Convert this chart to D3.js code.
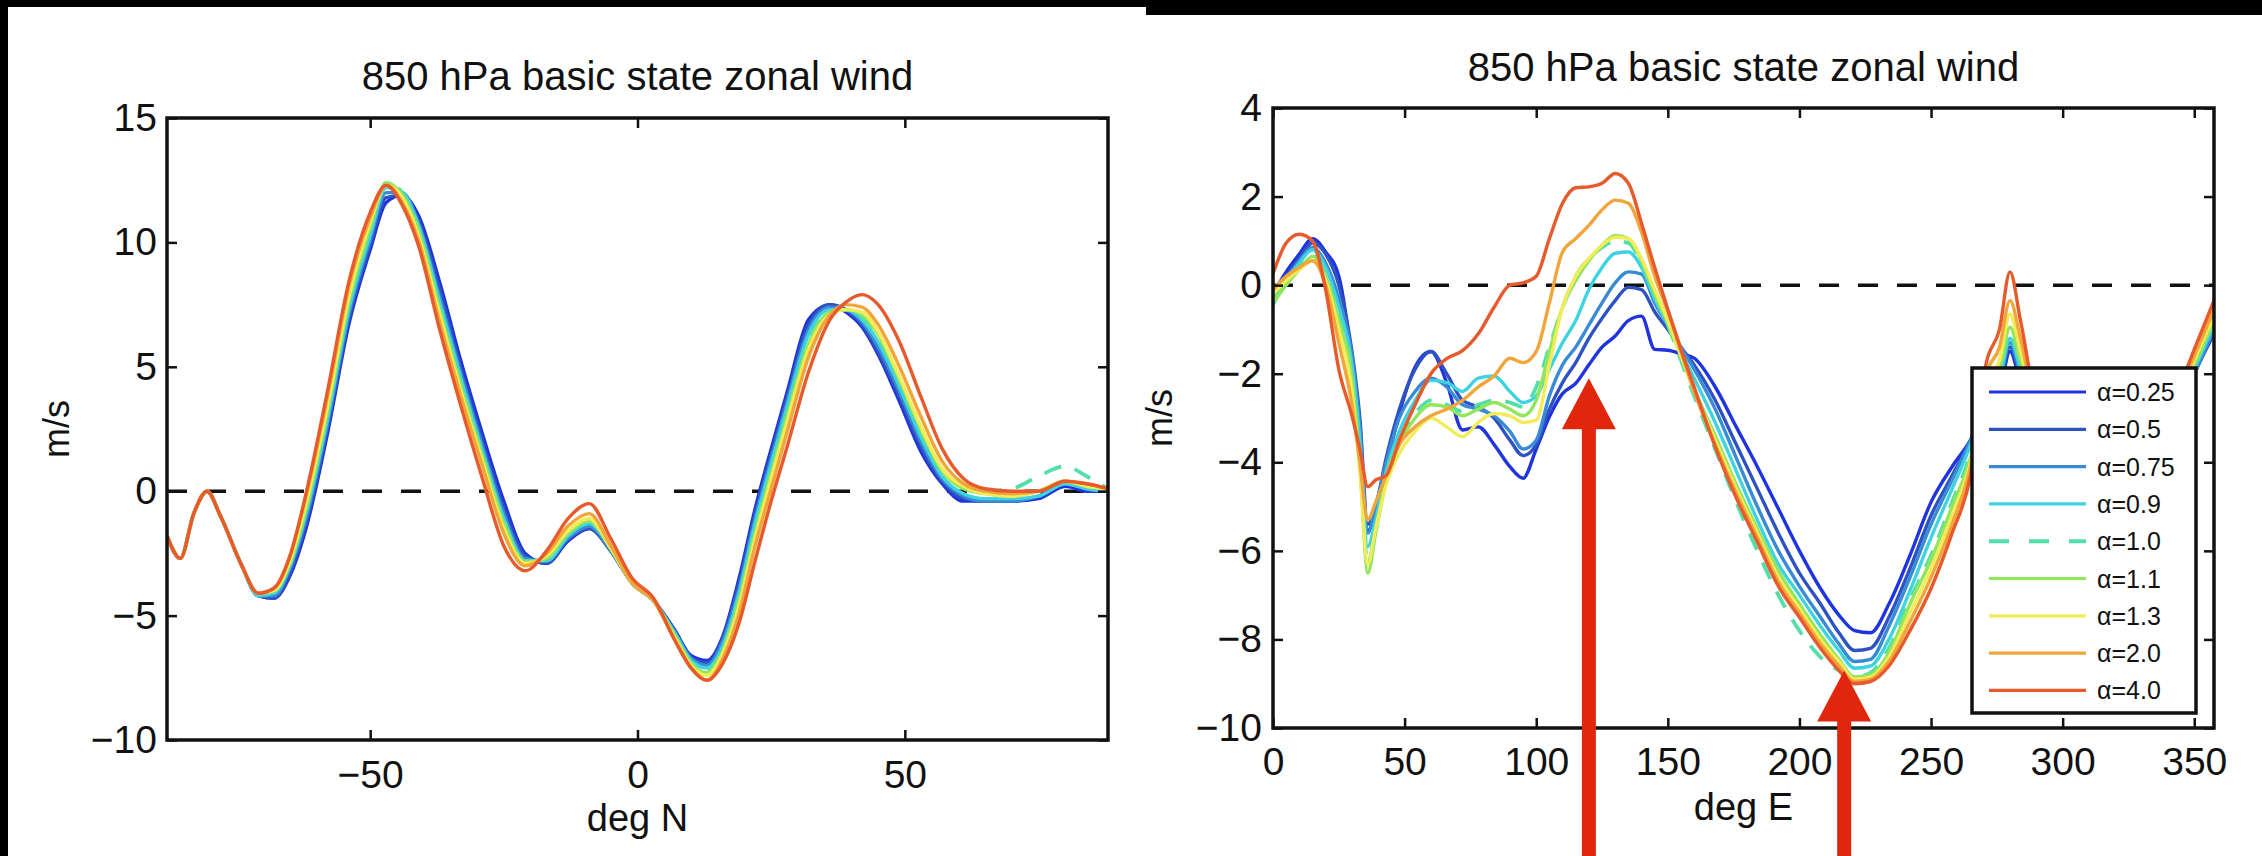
<!DOCTYPE html>
<html>
<head>
<meta charset="utf-8">
<script src="https://cdn.jsdelivr.net/npm/d3@7"></script>
<style>
  html, body { margin: 0; padding: 0; background: #000; }
  svg { display: block; }
  text { font-family: 'Liberation Sans', Arial, Helvetica, sans-serif; }
</style>
</head>
<body>
<svg id="fig" width="2262" height="856"></svg>
<script>
const W = 2262, H = 856;

const ALPHAS = ['α=0.25', 'α=0.5', 'α=0.75', 'α=0.9', 'α=1.0', 'α=1.1', 'α=1.3', 'α=2.0', 'α=4.0'];
const ALPHA_COLORS = ['#1f33de', '#2f52c2', '#3a8bd6', '#3fd3e2', '#52e0a8', '#92e65e', '#f2ec58', '#f2a53a', '#e65a2c'];
const DASHED = 'α=1.0';

// zonal mean, by latitude
const LAT = [-88, -85.5, -83, -80.5, -78, -74, -71, -68, -65, -62, -58, -54, -50, -47, -44, -41, -37, -33, -29, -25,
  -21, -17, -13, -9, -5, -1, 3, 7, 10, 13, 16, 19, 22, 25, 28, 32, 36, 39, 42, 45, 49, 53, 57, 61, 65, 70, 75, 80, 84, 88];
const LAT_TICKS = [-50, 0, 50];
const LAT_U_TICKS = [-10, -5, 0, 5, 10, 15];

const latU025 = [-1.8, -2.7, -0.9, 0.0, -1.0, -3.0, -4.2, -4.3, -3.4, -1.5, 2.3, 6.7, 9.7, 11.6, 11.9, 11.1, 8.4, 5.2, 2.3, -0.4, -2.5, -2.9, -2.0, -1.5, -2.4, -3.7, -4.4, -5.6, -6.6, -6.8, -5.8, -3.5, -0.7, 1.7, 4.0, 6.9, 7.5, 7.2, 6.6, 5.5, 3.6, 1.6, 0.3, -0.4, -0.4, -0.4, -0.3, 0.2, 0.0, 0.0];
const latU05 = [-1.8, -2.7, -0.9, 0.0, -1.0, -3.0, -4.2, -4.3, -3.3, -1.3, 2.5, 6.9, 9.9, 11.8, 11.9, 10.9, 8.1, 4.9, 2.0, -0.7, -2.6, -2.9, -1.9, -1.5, -2.4, -3.7, -4.4, -5.6, -6.7, -6.9, -5.9, -3.7, -0.9, 1.5, 3.8, 6.7, 7.5, 7.3, 6.7, 5.6, 3.8, 1.8, 0.4, -0.3, -0.4, -0.4, -0.2, 0.3, 0.1, 0.0];
const latU075 = [-1.8, -2.7, -0.9, 0.0, -1.0, -3.0, -4.2, -4.2, -3.1, -1.1, 2.7, 7.1, 10.1, 12.0, 12.0, 10.8, 7.8, 4.7, 1.8, -0.9, -2.7, -2.8, -1.9, -1.4, -2.4, -3.7, -4.4, -5.7, -6.7, -7.0, -6.0, -3.9, -1.1, 1.3, 3.6, 6.5, 7.4, 7.3, 6.8, 5.8, 4.0, 2.0, 0.5, -0.2, -0.4, -0.4, -0.2, 0.3, 0.1, 0.0];
const latU09 = [-1.8, -2.7, -0.9, 0.0, -1.0, -3.0, -4.2, -4.1, -3.0, -0.9, 2.9, 7.3, 10.3, 12.2, 12.0, 10.7, 7.6, 4.5, 1.6, -1.1, -2.8, -2.8, -1.8, -1.3, -2.3, -3.7, -4.4, -5.7, -6.8, -7.1, -6.2, -4.1, -1.3, 1.1, 3.4, 6.3, 7.3, 7.3, 6.9, 6.0, 4.2, 2.2, 0.6, -0.1, -0.3, -0.3, -0.2, 0.3, 0.1, 0.0];
const latU10 = [-1.8, -2.7, -0.9, 0.0, -1.0, -3.0, -4.1, -4.0, -2.9, -0.8, 3.1, 7.5, 10.5, 12.4, 12.0, 10.6, 7.4, 4.3, 1.5, -1.2, -2.8, -2.7, -1.7, -1.2, -2.3, -3.7, -4.4, -5.8, -6.9, -7.2, -6.3, -4.3, -1.6, 0.8, 3.1, 6.0, 7.2, 7.3, 7.0, 6.2, 4.4, 2.4, 0.8, 0.2, 0.0, 0.1, 0.6, 1.0, 0.6, 0.1];
const latU11 = [-1.8, -2.7, -0.9, 0.0, -1.0, -3.0, -4.1, -4.0, -2.9, -0.7, 3.2, 7.6, 10.6, 12.4, 11.9, 10.5, 7.3, 4.2, 1.4, -1.3, -2.85, -2.7, -1.7, -1.2, -2.3, -3.7, -4.4, -5.8, -6.9, -7.3, -6.4, -4.4, -1.7, 0.7, 3.0, 5.9, 7.2, 7.3, 7.1, 6.3, 4.5, 2.5, 0.8, 0.1, -0.1, -0.2, 0.0, 0.4, 0.2, 0.1];
const latU13 = [-1.8, -2.7, -0.9, 0.0, -1.0, -3.0, -4.1, -4.0, -2.8, -0.5, 3.4, 7.8, 10.8, 12.3, 11.8, 10.3, 7.1, 4.0, 1.2, -1.5, -2.9, -2.6, -1.6, -1.1, -2.3, -3.7, -4.4, -5.9, -7.0, -7.4, -6.5, -4.6, -1.9, 0.5, 2.8, 5.7, 7.1, 7.3, 7.2, 6.4, 4.6, 2.6, 0.9, 0.2, -0.1, -0.2, 0.0, 0.4, 0.2, 0.1];
const latU20 = [-1.8, -2.7, -0.9, 0.0, -1.0, -3.0, -4.1, -3.9, -2.6, -0.2, 3.8, 8.2, 11.0, 12.3, 11.6, 10.1, 6.8, 3.8, 1.0, -1.7, -3.0, -2.5, -1.4, -0.9, -2.2, -3.7, -4.4, -6.0, -7.1, -7.6, -6.7, -4.9, -2.2, 0.1, 2.4, 5.4, 7.1, 7.5, 7.4, 6.7, 5.0, 3.0, 1.2, 0.3, 0.0, -0.1, 0.0, 0.4, 0.3, 0.1];
const latU40 = [-1.8, -2.7, -0.9, 0.0, -1.0, -3.0, -4.1, -3.9, -2.6, -0.1, 4.0, 8.4, 11.2, 12.3, 11.5, 9.9, 6.5, 3.4, 0.5, -2.2, -3.2, -2.4, -1.1, -0.5, -1.9, -3.5, -4.3, -6.0, -7.1, -7.6, -6.9, -5.3, -2.8, -0.4, 1.8, 4.8, 6.9, 7.6, 7.9, 7.5, 6.0, 3.8, 1.7, 0.5, 0.1, 0.0, 0.0, 0.4, 0.3, 0.1];

// equatorial band, by longitude
const LON = [0, 5, 10, 15, 20, 25, 30, 33, 36, 39, 43, 48, 54, 60, 66, 72, 78, 84, 90, 95, 100, 105, 110, 115, 120, 125, 130, 135, 140,
  145, 150, 155, 160, 168, 176, 184, 192, 200, 208, 215, 221, 227, 234, 242, 250, 258, 265, 271, 276, 280, 284, 290, 310, 330, 345, 350, 357.5];
const LON_TICKS = [0, 50, 100, 150, 200, 250, 300, 350];
const LON_U_TICKS = [-10, -8, -6, -4, -2, 0, 2, 4];

const lonU025 = [-0.2, 0.3, 0.7, 1.05, 0.75, 0.2, -1.8, -3.7, -5.55, -5.1, -4.1, -2.9, -1.85, -1.5, -2.2, -3.27, -3.2, -3.6, -4.1, -4.36, -3.7, -2.97, -2.45, -2.22, -1.8, -1.4, -1.15, -0.8, -0.7, -1.45, -1.47, -1.55, -1.65, -2.3, -3.2, -4.1, -5.05, -6.0, -6.85, -7.45, -7.8, -7.85, -7.2, -6.1, -4.9, -4.1, -3.5, -2.8, -2.4, -1.5, -2.2, -3.0, -3.3, -3.5, -2.7, -2.0, -1.1];
const lonU05 = [-0.25, 0.2, 0.6, 0.95, 0.7, 0.0, -1.5, -3.0, -5.4, -5.0, -3.9, -2.8, -1.9, -1.5, -2.0, -2.6, -2.75, -3.0, -3.5, -3.85, -3.6, -2.8, -2.2, -1.75, -1.2, -0.75, -0.35, -0.05, -0.1, -0.6, -1.0, -1.4, -1.8, -2.6, -3.6, -4.6, -5.6, -6.5, -7.2, -7.85, -8.25, -8.2, -7.5, -6.4, -5.2, -4.3, -3.5, -2.7, -2.3, -1.4, -2.1, -3.0, -3.3, -3.5, -2.7, -2.0, -1.05];
const lonU075 = [-0.3, 0.15, 0.55, 0.85, 0.5, -0.3, -1.6, -3.2, -5.6, -5.0, -4.0, -3.0, -2.4, -2.1, -2.3, -2.7, -2.8, -2.95, -3.3, -3.7, -3.5, -2.5, -1.8, -1.4, -0.9, -0.4, 0.05, 0.3, 0.25, -0.4, -0.9, -1.4, -1.9, -2.8, -3.9, -5.0, -6.0, -6.8, -7.5, -8.1, -8.5, -8.45, -7.7, -6.6, -5.4, -4.4, -3.5, -2.6, -2.2, -1.3, -2.0, -3.0, -3.3, -3.5, -2.6, -2.0, -1.0];
const lonU09 = [-0.45, 0.1, 0.5, 0.8, 0.4, -0.5, -1.8, -3.5, -5.9, -5.3, -4.2, -3.3, -2.6, -2.15, -2.2, -2.4, -2.1, -2.05, -2.4, -2.65, -2.5, -1.9, -1.3, -0.8, -0.1, 0.4, 0.72, 0.75, 0.4, -0.3, -0.9, -1.5, -2.1, -3.1, -4.2, -5.3, -6.3, -7.0, -7.7, -8.25, -8.65, -8.6, -8.0, -6.9, -5.7, -4.6, -3.6, -2.5, -2.1, -1.2, -1.9, -2.9, -3.3, -3.5, -2.6, -1.9, -0.9];
const lonU10 = [-0.35, 0.05, 0.4, 0.7, 0.25, -0.7, -2.0, -3.9, -6.3, -5.5, -4.3, -3.5, -2.9, -2.6, -2.7, -2.85, -2.7, -2.6, -2.65, -2.75, -2.3, -1.4, -0.5, 0.2, 0.6, 0.85, 1.0, 0.95, 0.5, -0.2, -0.9, -1.7, -2.5, -3.7, -4.9, -6.0, -7.0, -7.8, -8.4, -8.7, -8.85, -8.75, -8.2, -7.1, -6.1, -4.9, -3.8, -2.4, -2.0, -1.1, -1.8, -2.9, -3.3, -3.5, -2.5, -1.85, -0.85];
const lonU11 = [-0.4, 0.0, 0.35, 0.65, 0.2, -0.8, -2.1, -4.0, -6.5, -5.6, -4.4, -3.6, -3.0, -2.7, -2.75, -2.95, -2.8, -2.65, -2.8, -2.95, -2.6, -1.5, -0.5, 0.1, 0.55, 0.9, 1.12, 1.05, 0.55, -0.2, -0.85, -1.6, -2.35, -3.4, -4.5, -5.5, -6.45, -7.2, -7.9, -8.45, -8.85, -8.8, -8.3, -7.2, -6.2, -5.0, -3.9, -2.3, -1.9, -0.95, -1.7, -2.9, -3.3, -3.5, -2.4, -1.8, -0.8];
const lonU13 = [-0.2, 0.1, 0.35, 0.55, 0.1, -1.0, -2.4, -4.2, -6.3, -5.5, -4.5, -3.8, -3.3, -3.0, -3.2, -3.42, -3.1, -2.9, -2.95, -3.1, -3.05, -1.8, -0.5, 0.2, 0.6, 0.9, 1.08, 1.05, 0.6, -0.1, -0.8, -1.6, -2.4, -3.5, -4.6, -5.6, -6.6, -7.3, -8.0, -8.5, -8.9, -8.85, -8.4, -7.4, -6.4, -5.2, -4.0, -2.2, -1.7, -0.65, -1.5, -2.8, -3.3, -3.5, -2.4, -1.7, -0.7];
const lonU20 = [-0.1, 0.2, 0.4, 0.55, 0.0, -1.3, -2.7, -4.0, -5.3, -4.9, -4.3, -3.6, -3.2, -2.95, -2.8, -2.6, -2.3, -2.05, -1.65, -1.75, -1.5, -0.4, 0.75, 1.05, 1.35, 1.7, 1.92, 1.85, 1.2, 0.2, -0.6, -1.5, -2.4, -3.6, -4.7, -5.7, -6.7, -7.4, -8.1, -8.6, -8.95, -8.9, -8.5, -7.6, -6.6, -5.4, -4.1, -2.0, -1.4, -0.35, -1.2, -2.7, -3.3, -3.5, -2.3, -1.6, -0.55];
const lonU40 = [0.26, 0.95, 1.15, 1.0, -0.1, -1.9, -2.95, -3.7, -4.55, -4.4, -4.3, -3.5, -2.7, -2.0, -1.66, -1.48, -1.1, -0.5, 0.0, 0.05, 0.2, 1.05, 1.85, 2.2, 2.22, 2.3, 2.52, 2.3, 1.4, 0.4, -0.55, -1.45, -2.3, -3.65, -4.8, -5.8, -6.8, -7.5, -8.2, -8.7, -9.0, -8.95, -8.6, -7.8, -6.85, -5.6, -4.3, -1.75, -1.0, 0.3, -0.8, -2.5, -3.2, -3.5, -2.2, -1.45, -0.35];

// red arrows drawn over the longitude panel: [deg E, m/s at the tip]
const ARROW_LON = [120, 217];
const ARROW_TIP = [-2.1, -8.7];

const TITLE = '850 hPa basic state zonal wind';
const INK = '#111';

const svg = d3.select('#fig');

// screenshot backdrop: two white panels on black
svg.append('rect').attr('width', W).attr('height', H).attr('fill', '#000');
svg.append('rect').attr('x', 8).attr('y', 7).attr('width', 1146 - 8).attr('height', H - 7).attr('fill', '#fff');
svg.append('rect').attr('x', 1146).attr('y', 15).attr('width', W - 1146).attr('height', H - 15).attr('fill', '#fff');

function drawPanel(p) {
  const g = svg.append('g');
  const x = d3.scaleLinear().domain(p.xDomain).range([p.left, p.right]);
  const y = d3.scaleLinear().domain(p.yDomain).range([p.bottom, p.top]);

  g.append('clipPath').attr('id', `clip-${p.id}`)
    .append('rect')
    .attr('x', p.left).attr('y', p.top)
    .attr('width', p.right - p.left).attr('height', p.bottom - p.top);

  g.append('line')
    .attr('x1', p.left).attr('x2', p.right)
    .attr('y1', y(0)).attr('y2', y(0))
    .attr('stroke', INK).attr('stroke-width', 3.5).attr('stroke-dasharray', '20,19');

  const line = d3.line()
    .x((d) => x(d[0]))
    .y((d) => y(d[1]))
    .curve(d3.curveMonotoneX);

  g.append('g').attr('clip-path', `url(#clip-${p.id})`)
    .selectAll('path')
    .data(p.series)
    .join('path')
    .attr('d', (s) => line(d3.zip(p.xs, s)))
    .attr('fill', 'none')
    .attr('stroke', (s, i) => ALPHA_COLORS[i])
    .attr('stroke-width', (s, i) => (ALPHAS[i] === DASHED ? 3.8 : 3.4))
    .attr('stroke-dasharray', (s, i) => (ALPHAS[i] === DASHED ? '18,14' : null))
    .attr('stroke-linejoin', 'round');

  const styleAxis = (sel) => {
    sel.attr('color', INK).attr('font-size', 39).attr('font-family', "'Liberation Sans', Arial, sans-serif");
    sel.select('.domain').remove();
    sel.selectAll('.tick line').attr('stroke-width', 2.5);
  };

  g.append('g').attr('transform', `translate(0,${p.bottom})`)
    .call(d3.axisBottom(x).tickValues(p.xTicks).tickSizeInner(-10).tickSizeOuter(0).tickPadding(p.xPad))
    .call(styleAxis);
  g.append('g').attr('transform', `translate(0,${p.top})`)
    .call(d3.axisTop(x).tickValues(p.xTicks).tickSizeInner(-10).tickSizeOuter(0).tickFormat(''))
    .call(styleAxis);
  g.append('g').attr('transform', `translate(${p.left},0)`)
    .call(d3.axisLeft(y).tickValues(p.yTicks).tickSizeInner(-10).tickSizeOuter(0).tickPadding(p.yPad))
    .call(styleAxis);
  g.append('g').attr('transform', `translate(${p.right},0)`)
    .call(d3.axisRight(y).tickValues(p.yTicks).tickSizeInner(-10).tickSizeOuter(0).tickFormat(''))
    .call(styleAxis);

  g.append('rect')
    .attr('x', p.left).attr('y', p.top)
    .attr('width', p.right - p.left).attr('height', p.bottom - p.top)
    .attr('fill', 'none').attr('stroke', INK).attr('stroke-width', 3.5);

  const cx = (p.left + p.right) / 2;
  g.append('text')
    .attr('x', cx).attr('y', p.titleY)
    .attr('text-anchor', 'middle').attr('font-size', 40).attr('fill', INK)
    .text(TITLE);
  g.append('text')
    .attr('x', cx).attr('y', p.xLabelY)
    .attr('text-anchor', 'middle').attr('font-size', 38).attr('fill', INK)
    .text(p.xLabel);
  g.append('text')
    .attr('transform', `translate(${p.yLabelX},${(p.top + p.bottom) / 2}) rotate(-90)`)
    .attr('text-anchor', 'middle').attr('font-size', 36).attr('fill', INK)
    .text('m/s');

  return { g, x, y };
}

drawPanel({
  id: 'lat',
  left: 167, right: 1108, top: 118, bottom: 740,
  xDomain: [-88, 88], yDomain: [-10, 15],
  xTicks: LAT_TICKS, yTicks: LAT_U_TICKS,
  xs: LAT,
  series: [latU025, latU05, latU075, latU09, latU10, latU11, latU13, latU20, latU40],
  titleY: 90, xLabel: 'deg N', xLabelY: 831, yLabelX: 69,
  xPad: 20, yPad: 10,
});

const lon = drawPanel({
  id: 'lon',
  left: 1273, right: 2214, top: 108, bottom: 728,
  xDomain: [0, 357.5], yDomain: [-10, 4],
  xTicks: LON_TICKS, yTicks: LON_U_TICKS,
  xs: LON,
  series: [lonU025, lonU05, lonU075, lonU09, lonU10, lonU11, lonU13, lonU20, lonU40],
  titleY: 81, xLabel: 'deg E', xLabelY: 820, yLabelX: 1172,
  xPad: 19, yPad: 11,
});

// legend
const legend = lon.g.append('g').attr('transform', 'translate(1972,368)');
legend.append('rect')
  .attr('width', 224).attr('height', 345)
  .attr('fill', '#fff').attr('stroke', INK).attr('stroke-width', 3.5);
const rows = legend.selectAll('g.row')
  .data(ALPHAS)
  .join('g')
  .attr('class', 'row')
  .attr('transform', (d, i) => `translate(0,${24 + i * 37.3})`);
rows.append('line')
  .attr('x1', 17).attr('x2', 114)
  .attr('stroke', (d, i) => ALPHA_COLORS[i])
  .attr('stroke-width', (d) => (d === DASHED ? 4 : 3.2))
  .attr('stroke-dasharray', (d) => (d === DASHED ? '20,20' : null));
rows.append('text')
  .attr('x', 125).attr('dy', '0.36em')
  .attr('font-size', 25).attr('fill', INK)
  .text((d) => d);

// annotation arrows
lon.g.selectAll('path.arrow')
  .data(d3.zip(ARROW_LON, ARROW_TIP))
  .join('path')
  .attr('class', 'arrow')
  .attr('fill', '#e0260c')
  .attr('d', ([a, u]) => {
    const tx = lon.x(a), ty = lon.y(u);
    const hb = ty + 51;
    return `M${tx},${ty}L${tx + 27},${hb}L${tx + 7},${hb}L${tx + 7},${H}L${tx - 7},${H}L${tx - 7},${hb}L${tx - 27},${hb}Z`;
  });
</script>
</body>
</html>
